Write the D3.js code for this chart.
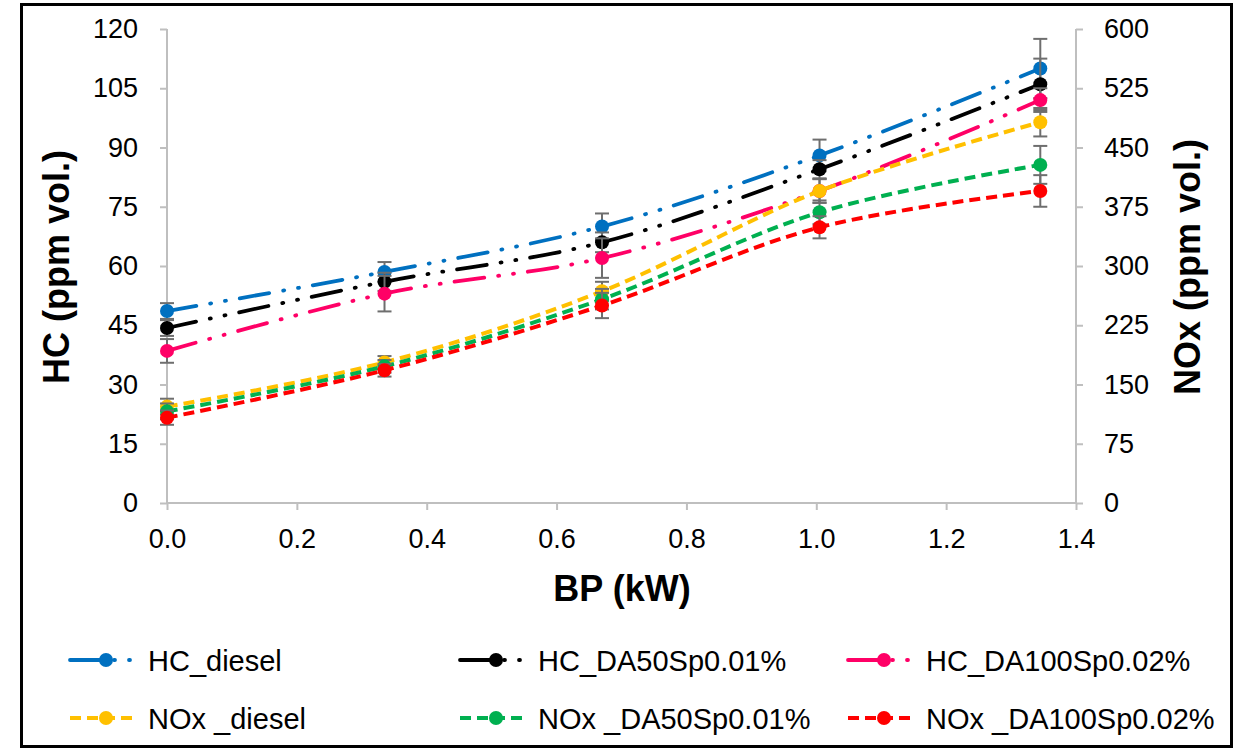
<!DOCTYPE html>
<html><head><meta charset="utf-8">
<script src="https://cdn.jsdelivr.net/npm/d3@7"></script>
<style>body{margin:0;background:#fff}svg{display:block;font-family:"Liberation Sans",Arial,sans-serif}</style>
</head><body><svg id="c" width="1240" height="752"></svg>
<script>
const bp = [0, 0.335, 0.67, 1.005, 1.345];
const xTicks = [0, 0.2, 0.4, 0.6, 0.8, 1.0, 1.2, 1.4];
const hcTicks = [0, 15, 30, 45, 60, 75, 90, 105, 120];
const noxTicks = [0, 75, 150, 225, 300, 375, 450, 525, 600];

const hcDiesel = [48.6, 58.5, 70, 88, 110];
const hcDA50 = [44.3, 56, 66, 84.5, 106];
const hcDA100 = [38.5, 53, 62, 79, 102];
const noxDiesel = [122, 178, 268, 395, 482];
const noxDA50 = [116, 173, 258, 368, 428];
const noxDA100 = [108, 168, 250, 349, 395];

const hcDieselErr = [2, 2.5, 3.3, 4, 7.5];
const hcDA50Err = [2, 2.3, 2.5, 2.3, 6.5];
const hcDA100Err = [3, 4.5, 5, 3, 3];
const noxDieselErr = [10, 8, 12, 15, 18];
const noxDA50Err = [10, 8, 13, 15, 24];
const noxDA100Err = [9, 8, 16, 14, 20];

const names = ["HC_diesel","HC_DA50Sp0.01%","HC_DA100Sp0.02%","NOx _diesel","NOx _DA50Sp0.01%","NOx _DA100Sp0.02%"];
const colors = ["#0070C0","#000000","#FF0066","#FFC000","#00B050","#FF0000"];

const svg = d3.select("#c");
const L = 167, R = 1076, T = 29, B = 503;
const x = d3.scaleLinear().domain([0, 1.4]).range([L, R]);
const yL = d3.scaleLinear().domain([0, 120]).range([B, T]);
const yR = d3.scaleLinear().domain([0, 600]).range([B, T]);

svg.append("rect").attr("x",21.5).attr("y",4.5).attr("width",1210).attr("height",742)
  .attr("fill","none").attr("stroke","#000").attr("stroke-width",3);

const axisCol = "#BFBFBF";
const gL = svg.append("g").attr("transform",`translate(${L},0)`)
  .call(d3.axisLeft(yL).tickValues(hcTicks).tickSize(7).tickPadding(22).tickFormat(d3.format("d")));
const gR = svg.append("g").attr("transform",`translate(${R},0)`)
  .call(d3.axisRight(yR).tickValues(noxTicks).tickSize(7).tickPadding(21).tickFormat(d3.format("d")));
const gB = svg.append("g").attr("transform",`translate(0,${B})`)
  .call(d3.axisBottom(x).tickValues(xTicks).tickSize(7).tickPadding(19).tickFormat(d3.format(".1f")));
[gL,gR,gB].forEach(g=>{
  g.select(".domain").attr("stroke",axisCol).attr("stroke-width",2);
  g.selectAll(".tick line").attr("stroke",axisCol).attr("stroke-width",2);
  g.selectAll(".tick text").attr("fill","#000").style("font-size","27px").style("font-family","'Liberation Sans',Arial,sans-serif");
});
gL.select(".domain").attr("d",`M0,${B}V${T}`);
gR.select(".domain").attr("d",`M0,${B}V${T}`);
gB.select(".domain").attr("d",`M${L},0H${R}`);

svg.append("text").attr("x",622).attr("y",601).attr("text-anchor","middle")
  .style("font-size","36px").style("font-weight","bold").text("BP (kW)");
svg.append("text").attr("transform",`translate(69,267) rotate(-90)`).attr("text-anchor","middle")
  .style("font-size","36px").style("font-weight","bold").text("HC (ppm vol.)");
svg.append("text").attr("transform",`translate(1200,267) rotate(-90)`).attr("text-anchor","middle")
  .style("font-size","36px").style("font-weight","bold").text("NOx (ppm vol.)");

const series = [
  {v:hcDiesel, e:hcDieselErr, y:yL, hc:true},
  {v:hcDA50, e:hcDA50Err, y:yL, hc:true},
  {v:hcDA100, e:hcDA100Err, y:yL, hc:true},
  {v:noxDiesel, e:noxDieselErr, y:yR, hc:false},
  {v:noxDA50, e:noxDA50Err, y:yR, hc:false},
  {v:noxDA100, e:noxDA100Err, y:yR, hc:false}
];
const hcDash = "30 14 1 14 1 14";
const noxDash = "11 6";

series.forEach((s,i)=>{
  const g = svg.append("g");
  const pts = bp.map((b,j)=>[x(b), s.y(s.v[j])]);
  const line = d3.line().curve(d3.curveCatmullRom.alpha(0));
  g.append("path").attr("d", line(pts)).attr("fill","none").attr("stroke",colors[i])
    .attr("stroke-width", s.hc?3.8:4).attr("stroke-dasharray", s.hc?hcDash:noxDash)
    .attr("stroke-linecap", s.hc?"round":"butt");
  bp.forEach((b,j)=>{
    const cx = x(b), y1 = s.y(s.v[j]+s.e[j]), y2 = s.y(s.v[j]-s.e[j]);
    g.append("line").attr("x1",cx).attr("x2",cx).attr("y1",y1).attr("y2",y2).attr("stroke","#6E6E6E").attr("stroke-width",2);
    [y1,y2].forEach(yy=>g.append("line").attr("x1",cx-7).attr("x2",cx+7).attr("y1",yy).attr("y2",yy).attr("stroke","#6E6E6E").attr("stroke-width",2));
  });
  g.selectAll("circle").data(pts).join("circle").attr("cx",d=>d[0]).attr("cy",d=>d[1]).attr("r",7).attr("fill",colors[i]);
});

const legX = [70, 460, 848], legY = [660, 718];
names.forEach((n,i)=>{
  const col = i%3, row = Math.floor(i/3);
  const x0 = legX[col], yy = legY[row];
  const hc = row===0;
  const g = svg.append("g");
  g.append("line").attr("x1",x0).attr("x2",x0+68).attr("y1",yy).attr("y2",yy).attr("stroke",colors[i])
    .attr("stroke-width",hc?3.8:4).attr("stroke-dasharray",hc?hcDash:noxDash).attr("stroke-linecap",hc?"round":"butt");
  g.append("circle").attr("cx",x0+36).attr("cy",yy).attr("r",7).attr("fill",colors[i]);
  g.append("text").attr("x",x0+78).attr("y",yy+11).style("font-size","29px").text(n);
});
</script></body></html>
